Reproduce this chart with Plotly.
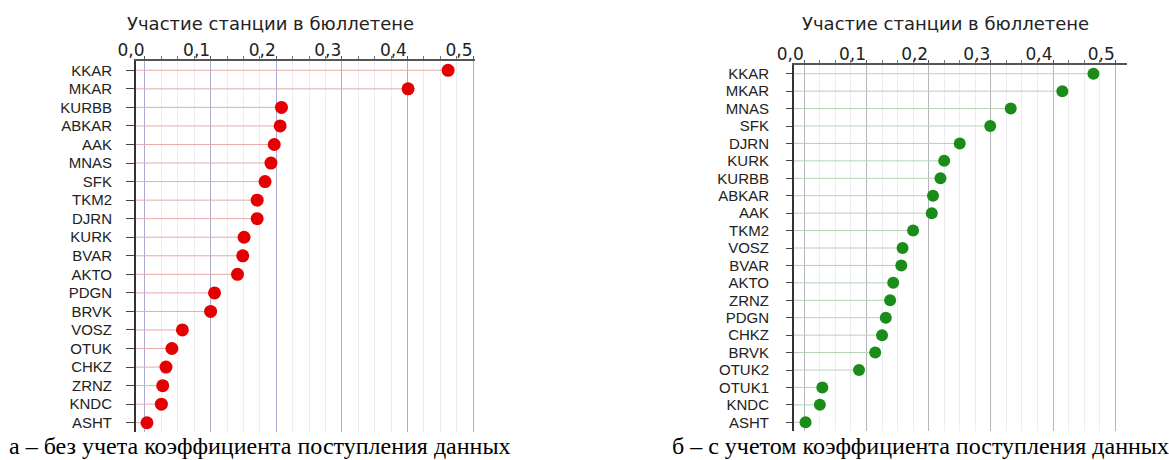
import plotly.graph_objects as go

W, H = 1169, 460

# ---- data ----
stations_a = ["KKAR", "MKAR", "KURBB", "ABKAR", "AAK", "MNAS", "SFK", "TKM2", "DJRN", "KURK",
              "BVAR", "AKTO", "PDGN", "BRVK", "VOSZ", "OTUK", "CHKZ", "ZRNZ", "KNDC", "ASHT"]
values_a = [0.462, 0.401, 0.208, 0.206, 0.197, 0.192, 0.183, 0.171, 0.171, 0.151,
            0.149, 0.141, 0.106, 0.100, 0.057, 0.041, 0.032, 0.027, 0.025, 0.003]

stations_b = ["KKAR", "MKAR", "MNAS", "SFK", "DJRN", "KURK", "KURBB", "ABKAR", "AAK", "TKM2",
              "VOSZ", "BVAR", "AKTO", "ZRNZ", "PDGN", "CHKZ", "BRVK", "OTUK2", "OTUK1", "KNDC", "ASHT"]
values_b = [0.465, 0.415, 0.332, 0.299, 0.250, 0.225, 0.219, 0.207, 0.205, 0.175,
            0.158, 0.156, 0.143, 0.138, 0.131, 0.125, 0.114, 0.088, 0.029, 0.025, 0.002]

tick_vals = [0.0, 0.1, 0.2, 0.3, 0.4, 0.5]
tick_text = ["0,0", "0,1", "0,2", "0,3", "0,4", "0,5"]

chart_title = "Участие станции в бюллетене"
caption_a = "а – без учета коэффициента поступления данных"
caption_b = "б – с учетом коэффициента поступления данных"

xrange_a = [-0.0137, 0.503]
xrange_b = [-0.0166, 0.519]

fig = go.Figure()


def stems(names, vals, x0):
    xs, ys = [], []
    for n, v in zip(names, vals):
        xs += [x0, v, None]
        ys += [n, n, None]
    return xs, ys


xs, ys = stems(stations_a, values_a, xrange_a[0])
fig.add_trace(go.Scatter(x=xs, y=ys, mode="lines", line=dict(color="#e9a9a9", width=1),
                         xaxis="x", yaxis="y", showlegend=False, hoverinfo="skip"))
fig.add_trace(go.Scatter(x=values_a, y=stations_a, mode="markers",
                         marker=dict(color="#e40000", size=13, line=dict(width=0)),
                         xaxis="x", yaxis="y", showlegend=False))

xs, ys = stems(stations_b, values_b, xrange_b[0])
fig.add_trace(go.Scatter(x=xs, y=ys, mode="lines", line=dict(color="#b5d3b5", width=1),
                         xaxis="x2", yaxis="y2", showlegend=False, hoverinfo="skip"))
fig.add_trace(go.Scatter(x=values_b, y=stations_b, mode="markers",
                         marker=dict(color="#1a8c1a", size=12, line=dict(width=0)),
                         xaxis="x2", yaxis="y2", showlegend=False))


def xaxis(dom, rng, anchor, gridcolor):
    return dict(domain=dom, range=rng, side="top", anchor=anchor, automargin=False,
                tickmode="array", tickvals=tick_vals, ticktext=tick_text, ticklabelshift=-14,
                ticks="outside", ticklen=3, tickcolor="#555", ticklabelstandoff=-7,
                showline=True, linecolor="#555", linewidth=1.5,
                showgrid=True, gridcolor=gridcolor, gridwidth=1.2,
                minor=dict(dtick=0.025, tick0=0, ticks="outside", ticklen=3, tickcolor="#777",
                           showgrid=True, gridcolor="#ececf2", gridwidth=1),
                tickfont=dict(family="DejaVu Sans", size=17, color="#222"),
                zeroline=False, fixedrange=True)


def yaxis(dom, names, anchor, ticklen, standoff):
    n = len(names)
    return dict(domain=dom, anchor=anchor, type="category", automargin=False,
                categoryorder="array", categoryarray=names,
                tickmode="array", tickvals=names, ticktext=names,
                range=[n - 0.5, -0.5],
                ticks="outside", ticklen=ticklen, tickcolor="#444", tickwidth=1.2,
                ticklabelstandoff=standoff,
                showline=True, linecolor="#333", linewidth=2,
                showgrid=False, zeroline=False,
                tickfont=dict(family="Liberation Sans, Arial", size=15, color="#222"),
                fixedrange=True)


fig.update_layout(
    width=W, height=H,
    margin=dict(l=0, r=0, t=0, b=0, autoexpand=False),
    paper_bgcolor="white", plot_bgcolor="white",
    separators=", ",
    xaxis=xaxis([136 / W, 475 / W], xrange_a, "y", "#ababd0"),
    yaxis=yaxis([1 - 432 / H, 1 - 61 / H], stations_a, "x", 8, 11),
    xaxis2=xaxis([794 / W, 1127 / W], xrange_b, "y2", "#b5b5be"),
    yaxis2=yaxis([1 - 431 / H, 1 - 65 / H], stations_b, "x2", 6, 14),
)

for cx, txt in [(270, chart_title), (945, chart_title)]:
    fig.add_annotation(x=cx / W, y=1 - 23 / H, xref="paper", yref="paper",
                       text=txt, showarrow=False, xanchor="center", yanchor="middle",
                       font=dict(family="DejaVu Sans", size=18, color="#222"))

for cx, txt in [(260, caption_a), (920, caption_b)]:
    fig.add_annotation(x=cx / W, y=1 - 446 / H, xref="paper", yref="paper",
                       text=txt, showarrow=False, xanchor="center", yanchor="middle",
                       font=dict(family="Liberation Serif, Times New Roman", size=24, color="#000"))

fig.write_html("out.html")
